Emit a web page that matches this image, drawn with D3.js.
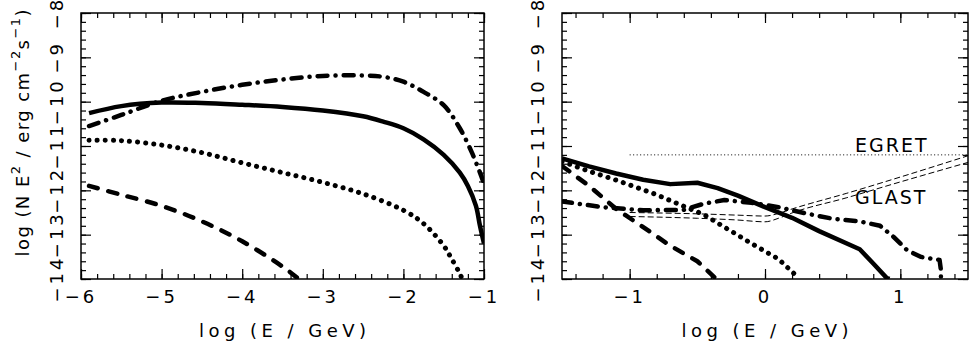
<!DOCTYPE html>
<html>
<head>
<meta charset="utf-8">
<script src="https://cdn.jsdelivr.net/npm/d3@7"></script>
<style>
  body { margin: 0; background: #fff; }
  text { font-family: "DejaVu Sans", sans-serif; fill: #000; }
</style>
</head>
<body>
<script>
// left panel curves, [log E, log NE^2]
var leftSolid = [[-5.9,-10.26],[-5.5,-10.1],[-5,-10.02],[-4.5,-10.03],[-4,-10.07],[-3.5,-10.12],[-3,-10.2],
  [-2.5,-10.33],[-2.25,-10.45],[-2,-10.6],[-1.75,-10.85],[-1.5,-11.2],[-1.3,-11.6],[-1.2,-11.9],[-1.1,-12.35],[-1.05,-12.8],[-1,-13.2]];
var leftDashDot = [[-5.9,-10.55],[-5.5,-10.3],[-5,-9.98],[-4.5,-9.78],[-4,-9.62],[-3.5,-9.5],[-3,-9.42],[-2.5,-9.41],
  [-2.25,-9.44],[-2,-9.55],[-1.75,-9.78],[-1.5,-10.08],[-1.3,-10.6],[-1.15,-11.15],[-1.05,-11.6],[-1,-11.85]];
var leftDotted = [[-5.9,-10.87],[-5.5,-10.88],[-5,-10.98],[-4.5,-11.15],[-4,-11.38],[-3.5,-11.6],[-3,-11.82],
  [-2.5,-12.08],[-2,-12.45],[-1.75,-12.75],[-1.5,-13.25],[-1.4,-13.55],[-1.3,-13.88],[-1.27,-14]];
var leftDashed = [[-5.9,-11.9],[-5.5,-12.1],[-5,-12.35],[-4.5,-12.7],[-4,-13.15],[-3.5,-13.72],[-3.3,-14]];

// right panel curves
var rightSolid = [[-1.5,-11.28],[-1.3,-11.46],[-1.1,-11.62],[-0.9,-11.76],[-0.7,-11.86],[-0.5,-11.83],[-0.35,-11.95],
  [-0.2,-12.12],[0,-12.38],[0.2,-12.62],[0.4,-12.92],[0.7,-13.33],[0.8,-13.65],[0.9,-13.98],[0.92,-14]];
var rightDashDot = [[-1.5,-12.25],[-1.2,-12.38],[-0.9,-12.45],[-0.6,-12.44],[-0.45,-12.3],[-0.3,-12.22],[-0.1,-12.28],
  [0.1,-12.38],[0.3,-12.52],[0.5,-12.64],[0.7,-12.7],[0.85,-12.8],[0.95,-13.05],[1.05,-13.35],[1.15,-13.5],
  [1.29,-13.57],[1.3,-13.8],[1.3,-14]];
var rightDotted = [[-1.5,-11.35],[-1.3,-11.57],[-1.1,-11.77],[-0.8,-12.1],[-0.6,-12.36],[-0.45,-12.55],[-0.3,-12.83],
  [-0.1,-13.2],[0.1,-13.55],[0.25,-13.98]];
var rightDashed = [[-1.5,-11.45],[-1.3,-11.9],[-1.1,-12.42],[-0.9,-12.83],[-0.7,-13.25],[-0.5,-13.6],[-0.36,-14]];

// sensitivity limits
var egret = [[-1,-11.2],[1.5,-11.2]];
var glastUpper = [[-1,-12.5],[-0.5,-12.53],[-0.2,-12.56],[0,-12.58],[0.1,-12.52],[0.2,-12.42],[0.6,-12.07],[1,-11.7],[1.5,-11.22]];
var glastLower = [[-1,-12.59],[-0.5,-12.63],[-0.2,-12.67],[0,-12.71],[0.1,-12.63],[0.2,-12.51],[0.6,-12.17],[1,-11.81],[1.5,-11.37]];

var yTicks = [-8,-9,-10,-11,-12,-13,-14];
var leftXTicks = [-6,-5,-4,-3,-2,-1];
var rightXTicks = [-1,0,1];

var svg = d3.select("body").append("svg")
    .attr("width", 970)
    .attr("height", 343);

var yTop = 13, yBottom = 279;
var y = d3.scaleLinear().domain([-14,-8]).range([yBottom, yTop]);

var panels = [
  {id:"L", x0:81, x1:484, domain:[-6,-1], major:leftXTicks, minor:d3.range(-6,-0.99,0.2),
    curve:d3.curveCatmullRom.alpha(0.5),
    lines:[{d:leftSolid, dash:null},{d:leftDashDot, dash:"10 8 0.1 8"},{d:leftDotted, dash:"0.1 8"},{d:leftDashed, dash:"9 11"}]},
  {id:"R", x0:562, x1:968, domain:[-1.5,1.5], major:rightXTicks, minor:d3.range(-1.4,1.5,0.2),
    curve:d3.curveLinear,
    lines:[{d:rightSolid, dash:null},{d:rightDashDot, dash:"10 8 0.1 8"},{d:rightDotted, dash:"0.1 8"},{d:rightDashed, dash:"9 11"}]}
];

panels.forEach(function(p) {
  var x = d3.scaleLinear().domain(p.domain).range([p.x0, p.x1]);
  var g = svg.append("g");

  g.append("clipPath").attr("id", "clip" + p.id)
    .append("rect").attr("x", p.x0).attr("y", yTop).attr("width", p.x1 - p.x0).attr("height", yBottom - yTop);

  // ticks on all four sides, pointing inward
  function ticks(axis, vals, size, tr) {
    var a = g.append("g").attr("transform", tr)
      .call(axis.tickValues(vals).tickSize(-size).tickFormat(""));
    a.select(".domain").remove();
    a.selectAll("line").attr("stroke", "#000").attr("stroke-width", 1.2);
  }
  var yMinor = d3.range(-14,-7.99,0.2);
  ticks(d3.axisBottom(x), p.minor, 5, "translate(0," + yBottom + ")");
  ticks(d3.axisBottom(x), p.major, 10, "translate(0," + yBottom + ")");
  ticks(d3.axisTop(x), p.minor, 5, "translate(0," + yTop + ")");
  ticks(d3.axisTop(x), p.major, 10, "translate(0," + yTop + ")");
  ticks(d3.axisLeft(y), yMinor, 5, "translate(" + p.x0 + ",0)");
  ticks(d3.axisLeft(y), yTicks, 10, "translate(" + p.x0 + ",0)");
  ticks(d3.axisRight(y), yMinor, 5, "translate(" + p.x1 + ",0)");
  ticks(d3.axisRight(y), yTicks, 10, "translate(" + p.x1 + ",0)");

  // frame
  g.append("rect").attr("x", p.x0).attr("y", yTop)
    .attr("width", p.x1 - p.x0).attr("height", yBottom - yTop)
    .attr("fill", "none").attr("stroke", "#000").attr("stroke-width", 1.5);

  // tick labels
  var fmt = d3.format("d");
  g.selectAll(".xl").data(p.major).enter().append("text")
    .attr("x", function(d) { return x(d); })
    .attr("y", 303)
    .attr("text-anchor", "middle")
    .attr("font-size", 18)
    .attr("letter-spacing", 3)
    .text(function(d) { return fmt(d); });
  g.selectAll(".yl").data(yTicks).enter().append("text")
    .attr("transform", function(d) { return "translate(" + (p.x0 - 18) + "," + y(d) + ") rotate(-90)"; })
    .attr("text-anchor", "middle")
    .attr("font-size", 18)
    .attr("letter-spacing", 3)
    .text(function(d) { return fmt(d); });

  // x title
  g.append("text")
    .attr("x", (p.x0 + p.x1) / 2)
    .attr("y", 337)
    .attr("text-anchor", "middle")
    .attr("font-size", 18)
    .attr("textLength", 167)
    .attr("lengthAdjust", "spacing")
    .text("log (E / GeV)");

  var line = d3.line()
    .x(function(d) { return x(d[0]); })
    .y(function(d) { return y(d[1]); })
    .curve(p.curve);

  var plot = g.append("g").attr("clip-path", "url(#clip" + p.id + ")");

  if (p.id === "R") {
    var lin = d3.line().x(function(d) { return x(d[0]); }).y(function(d) { return y(d[1]); });
    plot.append("path").attr("d", lin(egret))
      .attr("fill", "none").attr("stroke", "#000").attr("stroke-width", 1).attr("stroke-dasharray", "1 2.5");
    [glastUpper, glastLower].forEach(function(gd) {
      plot.append("path").attr("d", lin.curve(d3.curveMonotoneX)(gd))
        .attr("fill", "none").attr("stroke", "#000").attr("stroke-width", 1).attr("stroke-dasharray", "6 3");
    });
    g.append("text").attr("x", 855).attr("y", 152).attr("font-size", 19).attr("letter-spacing", 2).text("EGRET");
    g.append("text").attr("x", 855).attr("y", 204).attr("font-size", 19).attr("letter-spacing", 2).text("GLAST");
  }

  p.lines.forEach(function(l) {
    plot.append("path")
      .attr("d", line(l.d))
      .attr("fill", "none")
      .attr("stroke", "#000")
      .attr("stroke-width", l.dash === "0.1 8" ? 5 : 4.5)
      .attr("stroke-linecap", l.dash ? "round" : "butt")
      .attr("stroke-linejoin", "round")
      .attr("stroke-dasharray", l.dash);
  });
});

// y title
var yt = svg.append("text")
  .attr("transform", "translate(29,133) rotate(-90)")
  .attr("text-anchor", "middle")
  .attr("font-size", 18)
  .attr("textLength", 247)
  .attr("lengthAdjust", "spacing");
yt.append("tspan").text("log (N E");
yt.append("tspan").attr("dy", -9).attr("font-size", 13).text("2");
yt.append("tspan").attr("dy", 9).text(" / erg cm");
yt.append("tspan").attr("dy", -9).attr("font-size", 13).text("\u22122");
yt.append("tspan").attr("dy", 9).text("s");
yt.append("tspan").attr("dy", -9).attr("font-size", 13).text("\u22121");
yt.append("tspan").attr("dy", 9).text(")");
</script>
</body>
</html>
